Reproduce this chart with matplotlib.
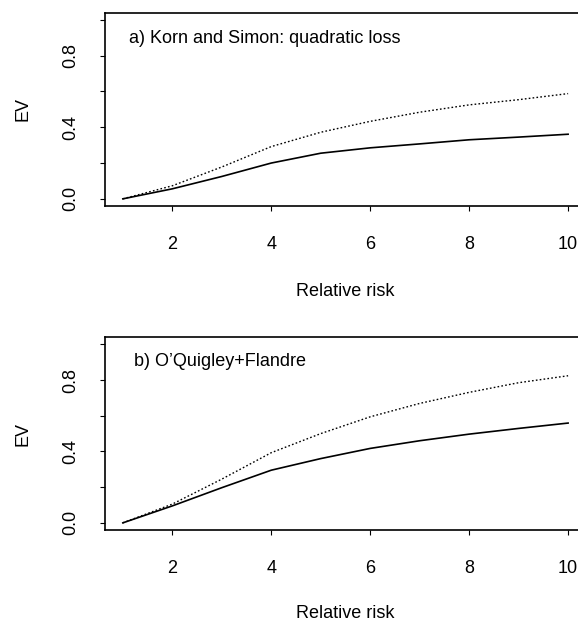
import numpy as np
import matplotlib
matplotlib.use('Agg')
import matplotlib.pyplot as plt

plt.rcParams['font.family'] = ['Liberation Sans', 'DejaVu Sans']

rr = [1, 2, 3, 4, 5, 6, 7, 8, 9, 10]

# a) Korn and Simon: quadratic loss
ks_solid = [0.0, 0.056, 0.125, 0.200, 0.255, 0.285, 0.307, 0.330, 0.345, 0.361]
ks_dot = [0.0, 0.073, 0.178, 0.292, 0.372, 0.433, 0.484, 0.525, 0.554, 0.588]

# b) O'Quigley+Flandre
of_solid = [0.0, 0.095, 0.197, 0.295, 0.360, 0.417, 0.460, 0.497, 0.529, 0.559]
of_dot = [0.0, 0.105, 0.245, 0.393, 0.500, 0.594, 0.669, 0.731, 0.785, 0.824]

titles = ['a) Korn and Simon: quadratic loss', 'b) O\u2019Quigley+Flandre']
yticks = [0.0, 0.2, 0.4, 0.6, 0.8, 1.0]
ylabs = ['0.0', '', '0.4', '', '0.8', '']
xticks = [2, 4, 6, 8, 10]

fig = plt.figure(figsize=(5.78, 6.22), dpi=100)
ax1 = fig.add_axes([0.1817, 0.6688, 0.832, 0.3108])
ax2 = fig.add_axes([0.1817, 0.1479, 0.832, 0.3100])

panels = [(ax1, ks_solid, ks_dot, titles[0], (1.12, 0.895), 22),
          (ax2, of_solid, of_dot, titles[1], (1.22, 0.905), 20)]

for ax, sol, dot, title, pos, xpad in panels:
    ax.plot(rr, sol, color='k', lw=1.2)
    ax.plot(rr, dot, color='k', lw=1.0, linestyle=(0, (1.2, 1.6)))
    ax.set_xlim(0.64, 10.36)
    ax.set_ylim(-0.04, 1.04)
    ax.set_xticks(xticks)
    ax.set_xticklabels([str(t) for t in xticks])
    ax.set_yticks(yticks)
    ax.set_yticklabels(ylabs, rotation=90, va='center')
    ax.tick_params(axis='x', direction='out', length=3.5, width=0.8, pad=18, labelsize=13)
    ax.tick_params(axis='y', direction='out', length=3.5, width=0.8, pad=15, labelsize=13)
    for s in ax.spines.values():
        s.set_linewidth(1.2)
    ax.set_xlabel('Relative risk', fontsize=13, labelpad=xpad)
    ax.set_ylabel('EV', fontsize=13, labelpad=22)
    ax.text(pos[0], pos[1], title, fontsize=13, ha='left', va='center')

plt.savefig('out.png', dpi=100)
